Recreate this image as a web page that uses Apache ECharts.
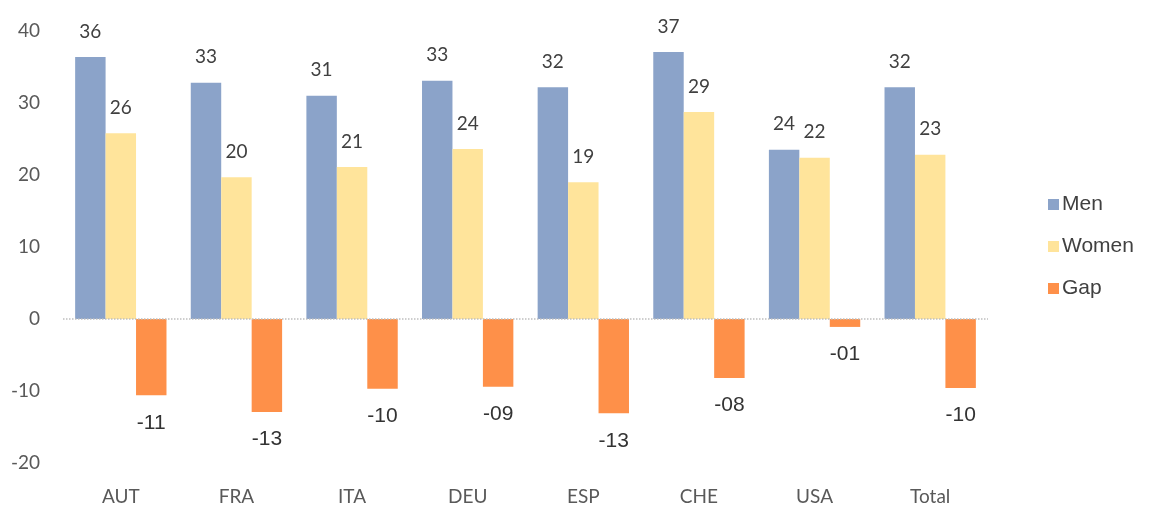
<!DOCTYPE html>
<html>
<head>
<meta charset="UTF-8">
<script src="https://cdn.jsdelivr.net/npm/echarts@6/dist/echarts.min.js"></script>
<style>
html,body{margin:0;padding:0;background:#fff;}
#chart{width:1153px;height:507px;}
</style>
</head>
<body>
<div id="chart"></div>
<script>
var categories = ['AUT','FRA','ITA','DEU','ESP','CHE','USA','Total'];
var men = [36.4, 32.8, 31.0, 33.1, 32.2, 37.1, 23.5, 32.2];
var women = [25.8, 19.7, 21.1, 23.6, 19.0, 28.75, 22.4, 22.8];
var gap = [-10.6, -12.9, -9.7, -9.4, -13.1, -8.2, -1.1, -9.6];

var tickFont = 'Lato, "Noto Sans", sans-serif';
var chart = echarts.init(document.getElementById('chart'));

function roundLabel(p){
	return String(Math.round(p.value));
}
function gapLabel(p){
	var v = Math.round(Math.abs(p.value));
	return (p.value < 0 ? '-' : '') + (v < 10 ? '0' + v : v);
}

var option = {
	animation: false,
	color: ['#8BA3C9','#FFE49B','#FE9049'],
	grid: {left: 63, right: 165, top: 31, bottom: 44},
	legend: {
		orient: 'vertical',
		left: 1043,
		top: 189,
		itemWidth: 11,
		itemHeight: 11,
		itemGap: 21,
		icon: 'rect',
		textStyle: {fontFamily: '"Liberation Sans", Arial, sans-serif', fontSize: 21, color: '#404040', padding: [0,0,0,-2]},
		data: ['Men','Women','Gap']
	},
	xAxis: {
		type: 'category',
		data: categories,
		axisLine: {show: false, onZero: false},
		axisTick: {show: false},
		axisLabel: {margin: 24, fontFamily: tickFont, fontSize: 19, color: '#595959'}
	},
	yAxis: {
		type: 'value',
		min: -20,
		max: 40,
		interval: 10,
		splitLine: {show: false},
		axisLine: {show: false},
		axisTick: {show: false},
		axisLabel: {margin: 23, fontFamily: tickFont, fontSize: 19, color: '#595959'}
	},
	series: [
		{
			name: 'Men',
			type: 'bar',
			data: men,
			barGap: '0%',
			barCategoryGap: '21%',
			label: {show: true, position: 'top', distance: 16, formatter: roundLabel,
				fontFamily: tickFont, fontSize: 19, color: '#404040'},
			markLine: {
				silent: true,
				symbol: 'none',
				label: {show: false},
				lineStyle: {color: '#bfbfbf', type: 'dotted', width: 1.5},
				data: [{yAxis: 0}]
			}
		},
		{
			name: 'Women',
			type: 'bar',
			data: women,
			barGap: '0%',
			barCategoryGap: '21%',
			label: {show: true, position: 'top', distance: 16, formatter: roundLabel,
				fontFamily: tickFont, fontSize: 19, color: '#404040'}
		},
		{
			name: 'Gap',
			type: 'bar',
			data: gap,
			barGap: '0%',
			barCategoryGap: '21%',
			label: {show: true, position: 'bottom', distance: 17, formatter: gapLabel,
				fontFamily: '"Liberation Sans", Arial, sans-serif', fontSize: 21, color: '#333'}
		}
	]
};
chart.setOption(option);
</script>
</body>
</html>
